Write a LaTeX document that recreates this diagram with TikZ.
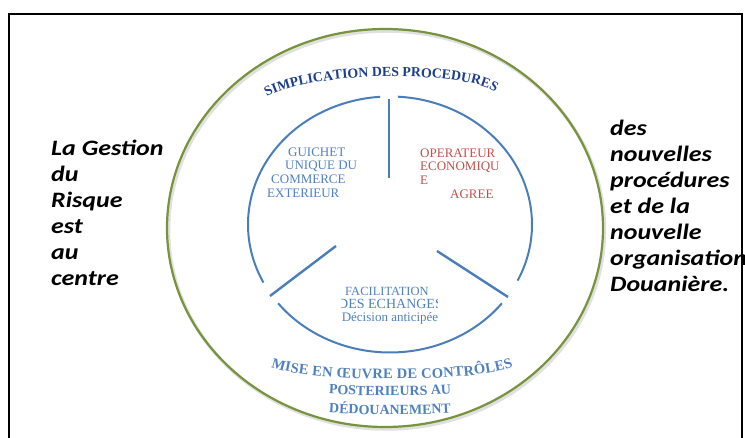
\documentclass[tikz,border=0pt]{standalone}
\usepackage{fontspec}
\setmainfont{Liberation Serif}
\newfontfamily\calibbi{Carlito Bold Italic}[FakeStretch=1.18]
\usetikzlibrary{decorations.text,calc}

\definecolor{ringgreen}{RGB}{119,147,60}
\definecolor{ringblue}{RGB}{74,126,187}
\definecolor{txtblue}{RGB}{79,129,189}
\definecolor{darkblue}{RGB}{28,62,140}
\definecolor{txtred}{RGB}{192,80,77}

\tikzset{
  outerring/.style={draw=ringgreen, line width=2.2pt},
  innerring/.style={draw=ringblue, line width=2pt},
  spokeline/.style={draw=ringblue, line width=2.4pt},
  softshadow/.style={draw=black, opacity=0.12, line width=3.5pt},
  sidetext/.style={font=\calibbi\fontsize{22}{26}\selectfont, align=left, inner sep=0pt},
  cell/.style={font=\fontsize{13}{14}\selectfont, inner sep=0pt, anchor=base west},
  bluecell/.style={cell, text=txtblue},
  redcell/.style={cell, text=txtred},
}

\begin{document}
\begin{tikzpicture}[x=1pt,y=1pt]
\useasboundingbox (0,0) rectangle (745,438);

% frame, open at the bottom
\draw[line width=1.5pt] (9,-5) -- (9,424) -- (742,424) -- (742,-5);

% outer green ring with a soft shadow
\coordinate (oc) at (385,210);
\draw[softshadow] ($(oc)+(1.5,-2)$) ellipse [x radius=218pt, y radius=199pt];
\draw[outerring] (oc) ellipse [x radius=218pt, y radius=199pt];

% inner blue ring, interrupted where the spokes meet it
\coordinate (ic) at (390,213.5);
\draw[innerring] ($(ic)+(94:142pt and 128pt)$)
  arc[start angle=94, end angle=207, x radius=142pt, y radius=128pt];
\draw[innerring] ($(ic)+(218:142pt and 128pt)$)
  arc[start angle=218, end angle=322, x radius=142pt, y radius=128pt];
\draw[innerring] ($(ic)+(334:142pt and 128pt)$)
  arc[start angle=334, end angle=446.8, x radius=142pt, y radius=128pt];

% spokes
\coordinate (s1a) at (389,339);
\coordinate (s1b) at (389,260);
\coordinate (s2a) at (270,142);
\coordinate (s2b) at (336,192);
\coordinate (s3a) at (508,141);
\coordinate (s3b) at (437,187);
\draw[spokeline] (s1a) -- (s1b);
\draw[spokeline] (s2a) -- (s2b);
\draw[spokeline] (s3a) -- (s3b);

% curved headings
\path[decorate, decoration={text along path,
    text={|\bfseries\fontsize{13.8}{14}\selectfont|SIMPLICATION DES PROCEDURES},
    text color=darkblue, text align=fit to path}]
  (267,341) .. controls (314,368) and (466,367) .. (495,346);

\path[decorate, decoration={text along path,
    text={|\bfseries\fontsize{14.5}{15}\selectfont|MISE EN ŒUVRE DE CONTRÔLES},
    text color=txtblue, text align=fit to path}]
  (271,71) .. controls (310,55) and (475,55) .. (513,71);

\path[decorate, decoration={text along path,
    text={|\bfseries\fontsize{14}{15}\selectfont|POSTERIEURS AU},
    text color=txtblue, text align=center}]
  (300,47) .. controls (340,41) and (440,41) .. (480,47);

\path[decorate, decoration={text along path,
    text={|\bfseries\fontsize{14}{15}\selectfont|DÉDOUANEMENT},
    text color=txtblue, text align=center}]
  (300,28) .. controls (340,22) and (440,22) .. (480,28);

% sector: guichet unique
\node[bluecell] (g1) at (288,281) {GUICHET};
\node[bluecell] (g2) at (285,268) {UNIQUE DU};
\node[bluecell] (g3) at (271,254) {COMMERCE};
\node[bluecell] (g4) at (267,240) {EXTERIEUR};

% sector: operateur economique agree
\node[redcell] (o1) at (420,280) {OPERATEUR};
\node[redcell] (o2) at (420,267) {ECONOMIQU};
\node[redcell] (o3) at (420,253) {E};
\node[redcell] (o4) at (450,239) {AGREE};

% sector: facilitation des echanges (text box cropped at its sides)
\begin{scope}
  \clip (300,138) rectangle (429,160);
  \node[bluecell, font=\fontsize{12.5}{13}\selectfont] (f1) at (345,142) {FACILITATION};
\end{scope}
\begin{scope}
  \clip (341,124) rectangle (437,139);
  \node[bluecell, font=\fontsize{14}{14}\selectfont] (f2) at (338,129) {DES ECHANGES};
\end{scope}
\node[cell, anchor=base, text=txtblue, font=\fontsize{13}{14}\selectfont] (f3) at (390,116) {Décision anticipée};

% side texts
\node[sidetext, anchor=north west] (left) at (51,298)
  {La Gestion\\du\\Risque\\est\\au\\centre};
\node[sidetext, anchor=north west] (right) at (610,318)
  {des\\nouvelles\\procédures\\et de la\\nouvelle\\organisation\\Douanière.};
\end{tikzpicture}
\end{document}
